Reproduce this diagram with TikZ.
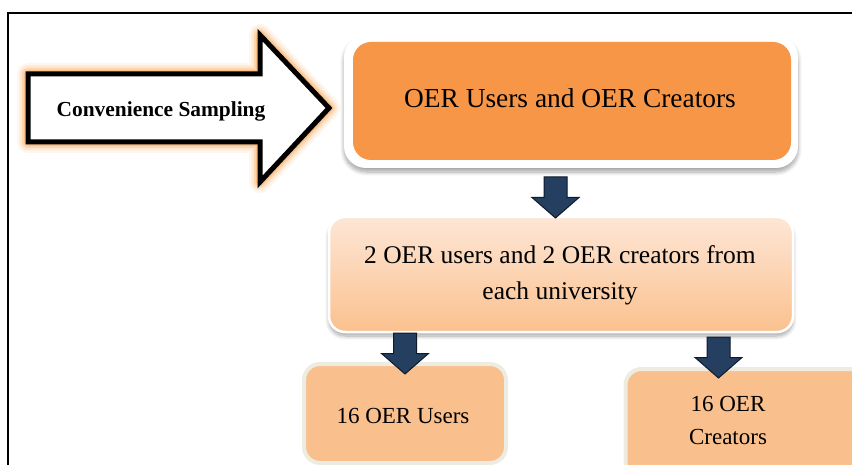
\documentclass[tikz,border=0pt]{standalone}
\usepackage{fontspec}
\setmainfont{Liberation Serif}
\usetikzlibrary{shadows.blur}
\definecolor{accent}{HTML}{F79646}
\definecolor{peach}{HTML}{F9BF8D}
\definecolor{peachlight}{HTML}{FDE6D6}
\definecolor{peachdeep}{HTML}{FBC18E}
\definecolor{navy}{HTML}{243F60}
\definecolor{navyedge}{HTML}{101B2A}
\definecolor{beige}{HTML}{EEECE1}
\definecolor{glow}{HTML}{F7A24F}

\begin{document}
\begin{tikzpicture}[x=1pt,y=-1pt,
  boxtext/.style={anchor=base, inner sep=0pt, font=\fontsize{25.5}{30}\selectfont},
  smalltext/.style={anchor=base, inner sep=0pt, font=\fontsize{23}{27}\selectfont},
  softshadow/.style={blur shadow={shadow xshift=0pt, shadow yshift=-4pt, shadow opacity=35, shadow blur steps=8, shadow blur radius=4pt}},
  blockdown/.pic={
    \draw[fill=navy, draw=navyedge, line width=1pt, line join=miter]
      (-11.5,0) -- (11.5,0) -- (11.5,20.5) -- (23.5,20.5) -- (0,41)
      -- (-23.5,20.5) -- (-11.5,20.5) -- cycle;
  }
]
\useasboundingbox (0,0) rectangle (852,465);
\clip (0,0) rectangle (852,465);

% page frame (top and left rules)
\draw[line width=2.5pt] (8,465) -- (8,13) -- (852,13);

% block arrow with soft orange glow
\draw[line width=5pt, fill=white, line join=miter,
      preaction={draw=glow, line width=22pt, opacity=0.1, line join=round},
      preaction={draw=glow, line width=17pt, opacity=0.16, line join=round},
      preaction={draw=glow, line width=12pt, opacity=0.28, line join=round},
      preaction={draw=glow, line width=8pt, opacity=0.4, line join=round}]
  (28,74) -- (260,74) -- (260,35) -- (329,108) -- (260,182) -- (260,142) -- (28,142) -- cycle;
\node[anchor=base, inner sep=0pt, font=\fontsize{21.4}{25}\selectfont\bfseries] (sampling) at (161,117) {Convenience Sampling};

% top box
\node[fill=white, rounded corners=22pt, minimum width=454pt, minimum height=133pt, inner sep=0pt, softshadow] (topframe) at (571,101.5) {};
\node[fill=accent, rounded corners=18pt, minimum width=438pt, minimum height=118pt, inner sep=0pt] (topbox) at (572,101) {};
\node[boxtext, font=\fontsize{27.4}{32}\selectfont] (toptext) at (570,108) {OER Users and OER Creators};

% middle box
\node[draw=white, line width=2.5pt, top color=peachlight, bottom color=peachdeep, rounded corners=16pt,
      minimum width=464pt, minimum height=115pt, inner sep=0pt, softshadow] (midbox) at (561,274.5) {};
\node[boxtext] (midline1) at (560,264) {2 OER users and 2 OER creators from};
\node[boxtext] (midline2) at (560,300) {each university};

% bottom boxes
\node[draw=beige, line width=4pt, fill=peach, rounded corners=16pt,
      minimum width=202pt, minimum height=99pt, inner sep=0pt] (usersbox) at (405,413.5) {};
\node[smalltext] (userstext) at (403,423) {16 OER Users};

\node[draw=beige, line width=4pt, fill=peach, rounded corners=16pt,
      minimum width=274.5pt, minimum height=151pt, inner sep=0pt] (creatorsbox) at (762.75,444.5) {};
\node[smalltext] (creatorsline1) at (728,411) {16 OER};
\node[smalltext] (creatorsline2) at (728,444) {Creators};

% block connectors
\pic (downA) at (555.5,177) {blockdown};
\pic (downB) at (405,333) {blockdown};
\pic (downC) at (718.5,337) {blockdown};
\end{tikzpicture}
\end{document}
